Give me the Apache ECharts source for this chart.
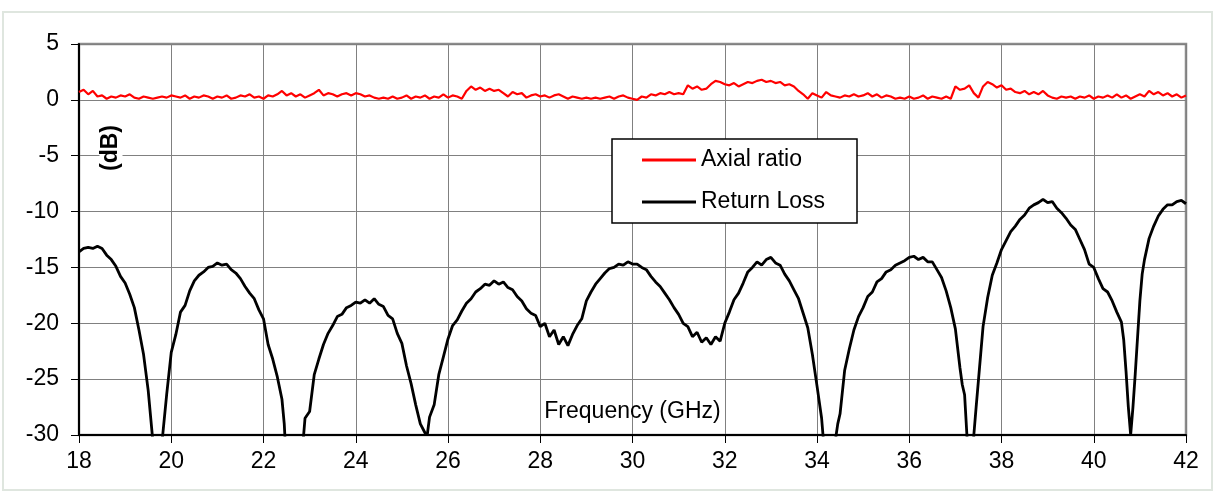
<!DOCTYPE html>
<html>
<head>
<meta charset="utf-8">
<script src="https://cdn.jsdelivr.net/npm/echarts@6/dist/echarts.min.js"></script>
<style>
html,body{margin:0;padding:0;background:#fff;}
#chart{width:1215px;height:493px;}
</style>
</head>
<body>
<div id="chart"></div>
<script>
// ---- Data ----
var xTicks = [18, 20, 22, 24, 26, 28, 30, 32, 34, 36, 38, 40, 42];
var yTicks = [5, 0, -5, -10, -15, -20, -25, -30];
var seriesNames = ['Axial ratio', 'Return Loss'];

// Axial ratio (dB) [frequency GHz, value]
var axialRatio = [
[18.0,0.7],[18.1,0.9],[18.2,0.5],[18.3,0.8],[18.4,0.3],[18.5,0.4],[18.6,0.1],[18.7,0.3],[18.8,0.2],[18.9,0.4],
[19.0,0.3],[19.1,0.5],[19.2,0.2],[19.3,0.1],[19.4,0.3],[19.5,0.2],[19.6,0.1],[19.7,0.2],[19.8,0.3],[19.9,0.2],
[20.0,0.4],[20.1,0.3],[20.2,0.2],[20.3,0.4],[20.4,0.1],[20.5,0.3],[20.6,0.2],[20.7,0.4],[20.8,0.3],[20.9,0.1],
[21.0,0.3],[21.1,0.2],[21.2,0.4],[21.3,0.1],[21.4,0.2],[21.5,0.4],[21.6,0.3],[21.7,0.5],[21.8,0.2],[21.9,0.3],
[22.0,0.1],[22.1,0.4],[22.2,0.3],[22.3,0.5],[22.4,0.8],[22.5,0.4],[22.6,0.6],[22.7,0.3],[22.8,0.5],[22.9,0.2],
[23.0,0.4],[23.1,0.6],[23.2,0.9],[23.3,0.4],[23.4,0.6],[23.5,0.5],[23.6,0.3],[23.7,0.5],[23.8,0.6],[23.9,0.4],
[24.0,0.6],[24.1,0.5],[24.2,0.3],[24.3,0.4],[24.4,0.2],[24.5,0.1],[24.6,0.2],[24.7,0.1],[24.8,0.3],[24.9,0.1],
[25.0,0.2],[25.1,0.4],[25.2,0.1],[25.3,0.3],[25.4,0.2],[25.5,0.4],[25.6,0.1],[25.7,0.3],[25.8,0.2],[25.9,0.5],
[26.0,0.2],[26.1,0.4],[26.2,0.3],[26.3,0.1],[26.4,0.8],[26.5,1.2],[26.6,0.9],[26.7,1.1],[26.8,0.8],[26.9,1.0],
[27.0,0.8],[27.1,0.9],[27.2,0.6],[27.3,0.3],[27.4,0.7],[27.5,0.5],[27.6,0.6],[27.7,0.2],[27.8,0.4],[27.9,0.5],
[28.0,0.3],[28.1,0.4],[28.2,0.2],[28.3,0.4],[28.4,0.5],[28.5,0.3],[28.6,0.1],[28.7,0.3],[28.8,0.2],[28.9,0.1],
[29.0,0.2],[29.1,0.1],[29.2,0.2],[29.3,0.1],[29.4,0.2],[29.5,0.3],[29.6,0.1],[29.7,0.3],[29.8,0.4],[29.9,0.2],
[30.0,0.1],[30.1,0.0],[30.2,0.3],[30.3,0.2],[30.4,0.5],[30.5,0.4],[30.6,0.6],[30.7,0.5],[30.8,0.7],[30.9,0.5],
[31.0,0.6],[31.1,0.5],[31.2,1.3],[31.3,1.0],[31.4,1.2],[31.5,0.9],[31.6,1.0],[31.7,1.4],[31.8,1.7],[31.9,1.6],
[32.0,1.4],[32.1,1.3],[32.2,1.5],[32.3,1.2],[32.4,1.4],[32.5,1.6],[32.6,1.5],[32.7,1.7],[32.8,1.8],[32.9,1.6],
[33.0,1.7],[33.1,1.5],[33.2,1.6],[33.3,1.3],[33.4,1.4],[33.5,1.2],[33.6,0.8],[33.7,0.5],[33.8,0.1],[33.9,0.6],
[34.0,0.4],[34.1,0.2],[34.2,0.7],[34.3,0.4],[34.4,0.3],[34.5,0.2],[34.6,0.4],[34.7,0.3],[34.8,0.5],[34.9,0.3],
[35.0,0.4],[35.1,0.6],[35.2,0.3],[35.3,0.5],[35.4,0.2],[35.5,0.4],[35.6,0.3],[35.7,0.1],[35.8,0.2],[35.9,0.1],
[36.0,0.3],[36.1,0.1],[36.2,0.2],[36.3,0.4],[36.4,0.1],[36.5,0.3],[36.6,0.2],[36.7,0.1],[36.8,0.3],[36.9,0.1],
[37.0,1.2],[37.1,0.9],[37.2,1.0],[37.3,1.3],[37.4,0.6],[37.5,0.2],[37.6,1.2],[37.7,1.6],[37.8,1.4],[37.9,1.1],
[38.0,1.3],[38.1,0.9],[38.2,1.0],[38.3,0.7],[38.4,0.6],[38.5,0.8],[38.6,0.5],[38.7,0.7],[38.8,0.5],[38.9,0.8],
[39.0,0.4],[39.1,0.2],[39.2,0.1],[39.3,0.3],[39.4,0.2],[39.5,0.3],[39.6,0.1],[39.7,0.3],[39.8,0.2],[39.9,0.4],
[40.0,0.1],[40.1,0.3],[40.2,0.2],[40.3,0.4],[40.4,0.2],[40.5,0.5],[40.6,0.2],[40.7,0.4],[40.8,0.1],[40.9,0.3],
[41.0,0.5],[41.1,0.3],[41.2,0.8],[41.3,0.5],[41.4,0.7],[41.5,0.4],[41.6,0.6],[41.7,0.3],[41.8,0.5],[41.9,0.2],
[42.0,0.4]
];

// Return loss (dB) [frequency GHz, value]
var returnLoss = [
[18.0,-13.6],[18.1,-13.3],[18.2,-13.2],[18.3,-13.3],[18.4,-13.1],[18.5,-13.3],[18.6,-13.9],[18.7,-14.3],[18.8,-14.9],[18.9,-15.8],
[19.0,-16.4],[19.1,-17.4],[19.2,-18.6],[19.3,-20.6],[19.4,-22.8],[19.5,-26.0],[19.6,-30.5],[19.7,-36.0],[19.81,-30.2],[19.9,-26.4],
[20.0,-22.6],[20.1,-21.0],[20.2,-19.0],[20.3,-18.4],[20.4,-17.1],[20.5,-16.2],[20.6,-15.7],[20.7,-15.4],[20.8,-15.0],[20.9,-14.9],
[21.0,-14.6],[21.1,-14.8],[21.2,-14.7],[21.3,-15.2],[21.4,-15.5],[21.5,-16.0],[21.6,-16.7],[21.7,-17.3],[21.8,-17.8],[21.9,-18.8],
[22.0,-19.6],[22.1,-21.9],[22.2,-23.2],[22.3,-24.8],[22.4,-26.8],[22.45,-29.0],[22.5,-33.0],[22.7,-36.0],[22.85,-31.0],[22.9,-28.5],
[23.0,-27.9],[23.1,-24.6],[23.2,-23.2],[23.3,-21.9],[23.4,-20.9],[23.5,-20.2],[23.6,-19.4],[23.7,-19.2],[23.8,-18.6],[23.9,-18.4],
[24.0,-18.1],[24.1,-18.2],[24.2,-17.9],[24.3,-18.2],[24.4,-17.8],[24.5,-18.3],[24.6,-18.5],[24.7,-19.3],[24.8,-19.6],[24.9,-20.9],
[25.0,-21.8],[25.1,-23.8],[25.2,-25.4],[25.3,-27.3],[25.4,-29.0],[25.5,-29.8],[25.55,-30.0],[25.6,-28.4],[25.7,-27.3],[25.8,-24.6],
[25.9,-23.0],[26.0,-21.4],[26.1,-20.2],[26.2,-19.7],[26.3,-18.9],[26.4,-18.2],[26.5,-17.8],[26.6,-17.2],[26.7,-16.9],[26.8,-16.5],
[26.9,-16.6],[27.0,-16.2],[27.1,-16.5],[27.2,-16.3],[27.3,-16.8],[27.4,-17.0],[27.5,-17.6],[27.6,-18.0],[27.7,-18.7],[27.8,-19.1],
[27.9,-19.3],[28.0,-20.3],[28.1,-20.0],[28.2,-21.2],[28.3,-20.6],[28.4,-21.9],[28.5,-21.2],[28.6,-22.0],[28.7,-21.0],[28.8,-20.2],
[28.9,-19.6],[29.0,-18.0],[29.1,-17.2],[29.2,-16.5],[29.3,-16.0],[29.4,-15.5],[29.5,-15.1],[29.6,-15.0],[29.7,-14.7],[29.8,-14.8],
[29.9,-14.5],[30.0,-14.7],[30.1,-14.7],[30.2,-15.0],[30.3,-15.2],[30.4,-15.8],[30.5,-16.3],[30.6,-16.7],[30.7,-17.3],[30.8,-17.9],
[30.9,-18.6],[31.0,-19.2],[31.1,-20.0],[31.2,-20.3],[31.3,-21.2],[31.4,-20.8],[31.5,-21.7],[31.6,-21.3],[31.7,-21.9],[31.8,-21.2],
[31.9,-21.6],[32.0,-20.0],[32.1,-19.0],[32.2,-17.9],[32.3,-17.3],[32.4,-16.4],[32.5,-15.4],[32.6,-15.0],[32.7,-14.5],[32.8,-14.8],
[32.9,-14.3],[33.0,-14.1],[33.1,-14.6],[33.2,-14.8],[33.3,-15.6],[33.4,-16.2],[33.5,-17.0],[33.6,-17.8],[33.7,-19.1],[33.8,-20.4],
[33.9,-22.8],[34.0,-25.6],[34.1,-28.5],[34.15,-31.0],[34.25,-36.0],[34.38,-31.0],[34.45,-29.0],[34.5,-28.1],[34.6,-24.2],[34.7,-22.3],
[34.8,-20.6],[34.9,-19.4],[35.0,-18.6],[35.1,-17.6],[35.2,-17.2],[35.3,-16.3],[35.4,-16.0],[35.5,-15.4],[35.6,-15.2],[35.7,-14.8],
[35.8,-14.6],[35.9,-14.4],[36.0,-14.1],[36.1,-14.0],[36.2,-14.3],[36.3,-14.1],[36.4,-14.5],[36.5,-14.5],[36.6,-15.2],[36.7,-15.9],
[36.8,-17.1],[36.9,-18.6],[37.0,-20.5],[37.1,-24.0],[37.15,-25.5],[37.2,-26.4],[37.25,-30.0],[37.33,-36.0],[37.4,-30.0],[37.45,-27.5],
[37.5,-25.1],[37.6,-20.3],[37.7,-17.7],[37.8,-15.7],[37.9,-14.6],[38.0,-13.4],[38.1,-12.6],[38.2,-11.8],[38.3,-11.3],[38.4,-10.7],
[38.5,-10.3],[38.6,-9.7],[38.7,-9.4],[38.8,-9.2],[38.9,-8.9],[39.0,-9.2],[39.1,-9.1],[39.2,-9.7],[39.3,-10.1],[39.4,-10.6],
[39.5,-11.2],[39.6,-11.6],[39.7,-12.5],[39.8,-13.4],[39.9,-14.7],[40.0,-15.0],[40.1,-16.0],[40.2,-16.9],[40.3,-17.2],[40.4,-18.0],
[40.5,-19.0],[40.6,-19.9],[40.65,-21.5],[40.7,-24.3],[40.75,-27.5],[40.8,-30.0],[40.85,-27.5],[40.9,-24.5],[41.0,-18.0],[41.05,-15.6],
[41.1,-14.3],[41.2,-12.4],[41.3,-11.3],[41.4,-10.4],[41.5,-9.8],[41.6,-9.4],[41.7,-9.4],[41.8,-9.1],[41.9,-9.0],[42.0,-9.3]
];

// ---- Chart ----
var FONT = 'Liberation Sans, Arial, sans-serif';
var chart = echarts.init(document.getElementById('chart'), null, {renderer: 'canvas'});
var option = {
  animation: false,
  backgroundColor: '#ffffff',
  textStyle: {fontFamily: FONT},
  grid: {
    left: 79, right: 29, top: 44, bottom: 58,
    show: true, borderColor: '#8c8c8c', borderWidth: 2.5, backgroundColor: 'transparent'
  },
  legend: {
    data: seriesNames,
    orient: 'vertical',
    left: 612, top: 139,
    padding: [8, 32, 8, 30],
    itemGap: 16,
    itemWidth: 54, itemHeight: 3,
    itemTextGap: 5,
    icon: 'rect',
    backgroundColor: '#ffffff',
    borderColor: '#000000', borderWidth: 1.5, borderRadius: 0,
    textStyle: {fontSize: 23, color: '#000', fontFamily: FONT, lineHeight: 26},
    z: 10
  },
  xAxis: {
    type: 'value',
    min: xTicks[0], max: xTicks[xTicks.length - 1], interval: 2,
    name: 'Frequency (GHz)',
    nameLocation: 'middle',
    nameGap: -35,
    nameTextStyle: {fontSize: 23, color: '#000', fontFamily: FONT},
    axisLine: {show: true, onZero: false, lineStyle: {color: '#000', width: 2}},
    axisTick: {show: true, inside: false, length: 8, lineStyle: {color: '#000', width: 1}},
    axisLabel: {fontSize: 23, color: '#000', margin: 15, fontFamily: FONT},
    splitLine: {show: true, lineStyle: {color: '#808080', width: 1}}
  },
  yAxis: {
    type: 'value',
    min: yTicks[yTicks.length - 1], max: yTicks[0], interval: 5,
    axisLine: {show: true, onZero: false, lineStyle: {color: '#000', width: 2}},
    axisTick: {show: true, inside: false, length: 8, lineStyle: {color: '#000', width: 1}},
    axisLabel: {fontSize: 23, color: '#000', margin: 20, fontFamily: FONT},
    splitLine: {show: true, lineStyle: {color: '#808080', width: 1}}
  },
  graphic: [
    {type: 'rect', z: -10, shape: {x: 3, y: 12, width: 1209, height: 478},
     style: {fill: 'none', stroke: '#dfe6df', lineWidth: 2}},
    {type: 'text', x: 111, y: 148, rotation: Math.PI / 2, z: 20,
     style: {text: '(dB)', font: 'bold 23px ' + FONT, fill: '#000', align: 'center', verticalAlign: 'middle',
             backgroundColor: '#fff', padding: [0, 8]}}
  ],
  series: [
    {name: seriesNames[0], type: 'line', data: axialRatio, showSymbol: false, symbol: 'none',
     lineStyle: {color: '#ff0000', width: 2.2}, itemStyle: {color: '#ff0000'}, clip: true, z: 3},
    {name: seriesNames[1], type: 'line', data: returnLoss, showSymbol: false, symbol: 'none',
     lineStyle: {color: '#000000', width: 2.8}, itemStyle: {color: '#000000'}, clip: true, z: 3}
  ]
};
chart.setOption(option);
</script>
</body>
</html>
